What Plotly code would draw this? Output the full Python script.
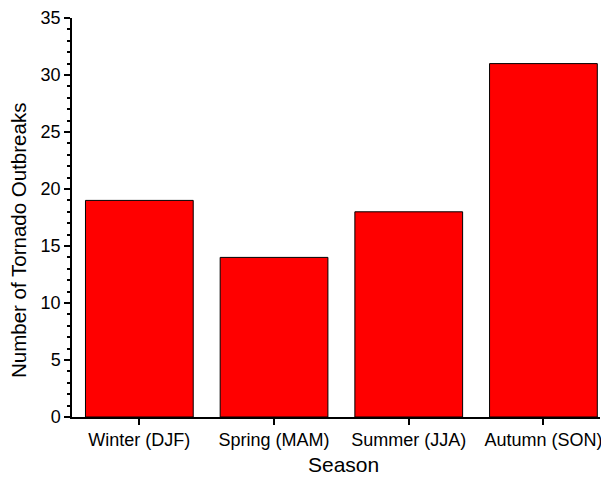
import plotly.graph_objects as go

seasons = ["Winter (DJF)", "Spring (MAM)", "Summer (JJA)", "Autumn (SON)"]
outbreaks = [19, 14, 18, 31]
y_ticks = [0, 5, 10, 15, 20, 25, 30, 35]
x_title = "Season"
y_title = "Number of Tornado Outbreaks"

fig = go.Figure(go.Bar(
    x=list(range(len(seasons))), y=outbreaks, width=0.8,
    marker=dict(color="#ff0000", line=dict(color="black", width=1)),
))

font = "Liberation Sans, Arial, sans-serif"
fig.update_layout(
    width=601, height=478,
    margin=dict(l=72, r=1, t=18, b=61),
    plot_bgcolor="white", paper_bgcolor="white",
    showlegend=False,
    font=dict(family=font, color="black", size=18),
    annotations=[
        dict(text=x_title, xref="paper", yref="paper", x=0.5133, y=-0.1203,
             xanchor="center", yanchor="middle", showarrow=False,
             font=dict(size=21)),
        dict(text=y_title, xref="paper", yref="paper", x=-0.1023, y=0.4436,
             xanchor="center", yanchor="middle", showarrow=False, textangle=-90,
             font=dict(size=20.5)),
    ],
)
fig.update_xaxes(
    range=[-0.5, 3.42], tickmode="array", tickvals=list(range(len(seasons))),
    ticktext=seasons, showline=True, linecolor="black", linewidth=1.5,
    ticks="outside", ticklen=6, tickcolor="black", tickwidth=1.5,
    showgrid=False, zeroline=False, automargin=False, ticklabeloverflow="allow",
    tickfont=dict(size=18),
)
fig.update_yaxes(
    range=[0, 35], tickmode="array", tickvals=y_ticks,
    showline=True, linecolor="black", linewidth=1.5,
    ticks="outside", ticklen=6, tickcolor="black", tickwidth=1.5,
    minor=dict(dtick=1, ticks="outside", ticklen=3, tickcolor="black", tickwidth=1.5),
    showgrid=False, zeroline=False, automargin=False,
    tickfont=dict(size=18),
)

fig.write_html("out.html", config={"displayModeBar": False},
               post_script="document.body.style.margin='0px';")
